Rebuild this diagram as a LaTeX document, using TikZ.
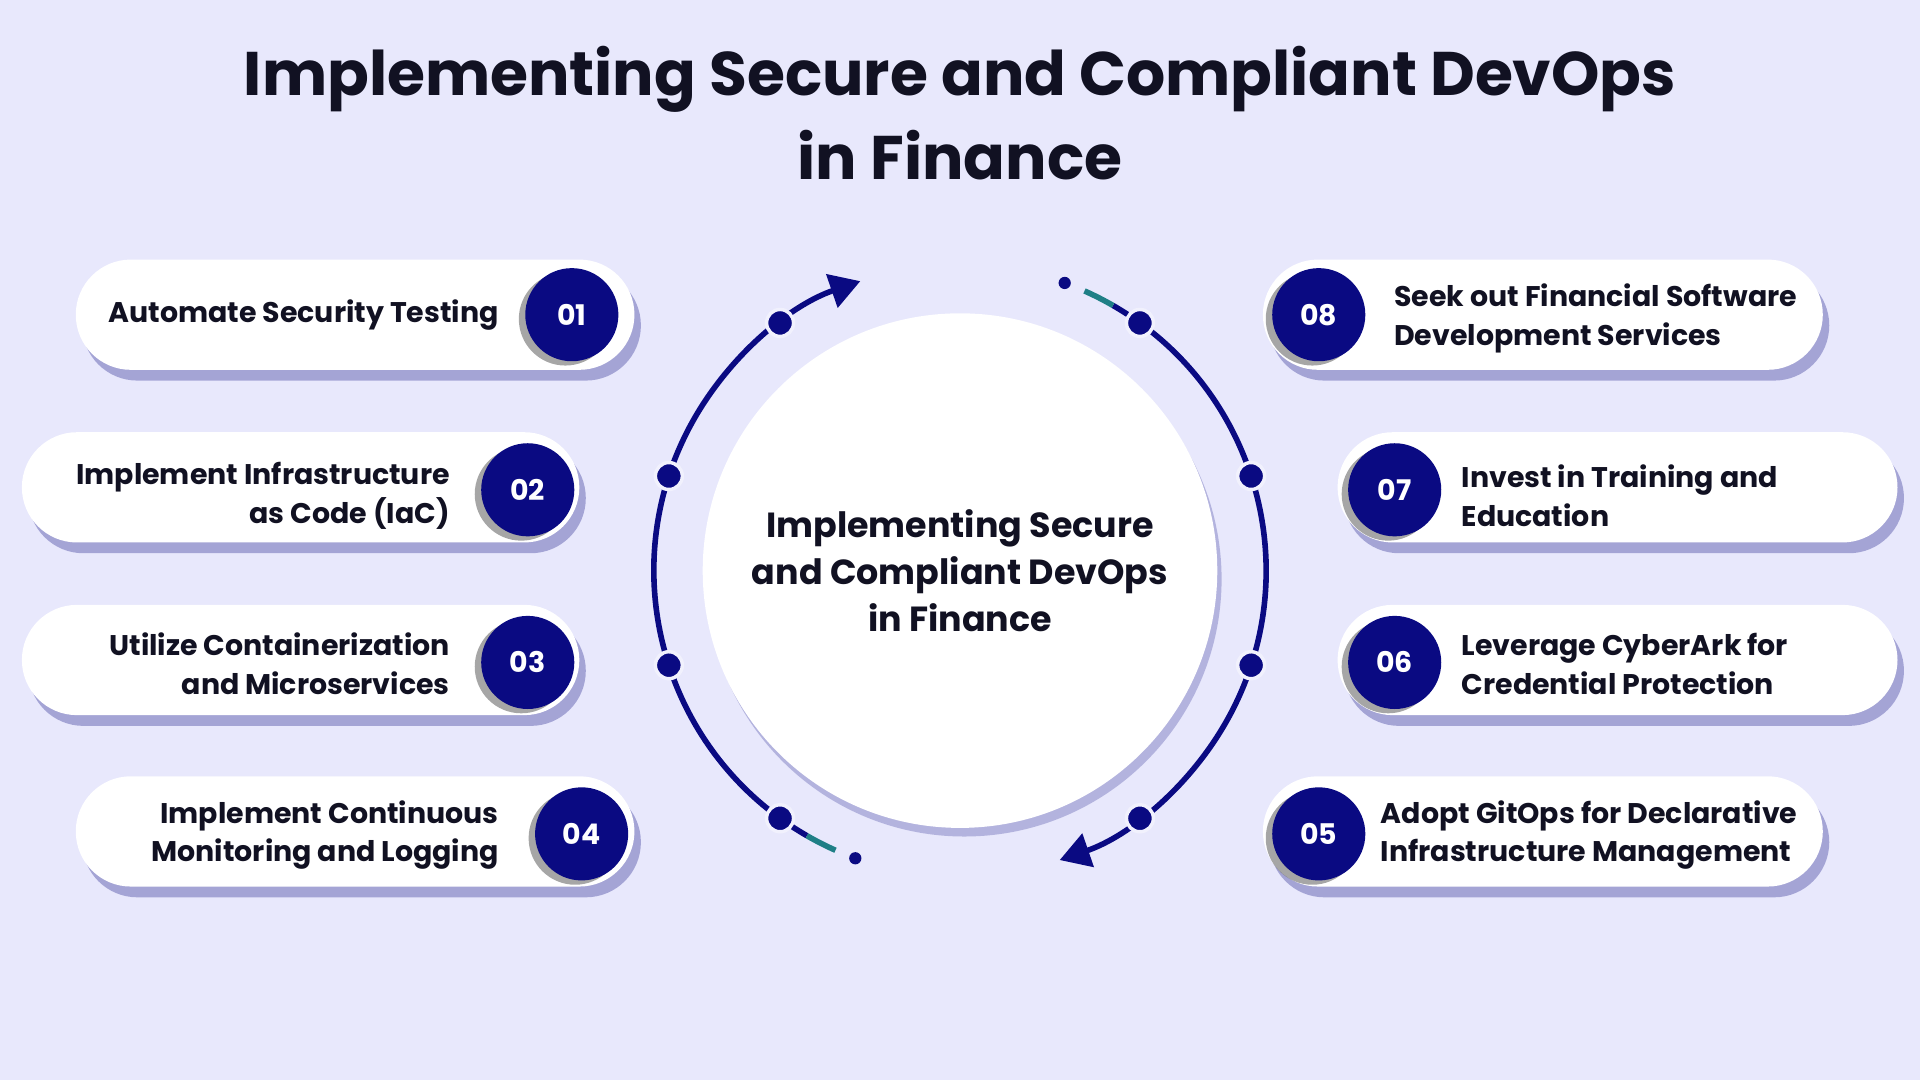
\documentclass[tikz,border=0pt]{standalone}
\usepackage{fontspec}
\setmainfont{Poppins}
\usetikzlibrary{shadows,arrows.meta}
\definecolor{bg}{HTML}{E8E8FC}
\definecolor{navy}{HTML}{0A0A82}
\definecolor{ink}{HTML}{111122}
\definecolor{teal}{HTML}{1F7F86}
\tikzset{
 pill/.style={draw=none,fill=white,rounded corners=45*0.01cm,minimum height=0.9cm,drop shadow={shadow xshift=1.5pt,shadow yshift=-2.5pt,opacity=.45,fill=navy!70}},
 num/.style={circle,fill=navy,minimum size=0.76cm,inner sep=0pt,text=white,font=\fontsize{6.6}{8}\selectfont\bfseries,drop shadow={shadow xshift=-1.5pt,shadow yshift=-1pt,opacity=.35,fill=black}},
 lab/.style={font=\fontsize{6.6}{9}\selectfont\bfseries,text=ink,inner sep=0pt},
 ringdot/.style={circle,fill=navy,draw=bg!60!white,line width=0.8pt,minimum size=0.22cm,inner sep=0pt},
 arcline/.style={draw=navy,line width=1.3pt},
}
\begin{document}
\begin{tikzpicture}[x=0.01cm,y=-0.01cm]
\fill[bg] (0,0) rectangle (1568,882);
\useasboundingbox (0,0) rectangle (1568,882);
\node[font=\fontsize{14.3}{19.5}\selectfont\bfseries,text=ink,align=center] (title) at (784,92) {Implementing Secure and Compliant DevOps\\in Finance};
% center
\node[circle,fill=white,minimum size=4.2cm,drop shadow={shadow xshift=1pt,shadow yshift=-2pt,opacity=.35,fill=navy!70}] (c) at (784,466) {};
\node[font=\fontsize{8.1}{10.9}\selectfont\bfseries,text=ink,align=center] (ct) at (784,466) {Implementing Secure\\and Compliant DevOps\\in Finance};
% arcs
\coordinate (o) at (784,466);
\draw[arcline,-{Triangle[length=7pt,width=8pt]}] ([shift={(-240:250)}]o) arc[start angle=-240,end angle=-109,radius=250];
\draw[teal,line width=1.3pt] ([shift={(-246:250)}]o) arc[start angle=-246,end angle=-240,radius=250];
\node[circle,fill=navy,minimum size=0.1cm,inner sep=0pt] (e1) at ([shift={(-250:250)}]o) {};
\draw[arcline,-{Triangle[length=7pt,width=8pt]}] ([shift={(-60:250)}]o) arc[start angle=-60,end angle=71,radius=250];
\draw[teal,line width=1.3pt] ([shift={(-66:250)}]o) arc[start angle=-66,end angle=-60,radius=250];
\node[circle,fill=navy,minimum size=0.1cm,inner sep=0pt] (e2) at ([shift={(-70:250)}]o) {};
\foreach \a/\n in {-126/d1,-162/d2,162/d3,126/d4,-54/d8,-18/d7,18/d6,54/d5}
  \node[ringdot] (\n) at ([shift={(\a:250)}]o) {};
% left pills
\node[pill,minimum width=4.56cm] (p1) at (290,257) {};
\node[pill,minimum width=4.55cm] (p2) at (245.5,398) {};
\node[pill,minimum width=4.55cm] (p3) at (245.5,539) {};
\node[pill,minimum width=4.56cm] (p4) at (290,679) {};
\node[num] (n1) at (467,257) {01};
\node[num] (n2) at (431,400) {02};
\node[num] (n3) at (431,541) {03};
\node[num] (n4) at (475,681) {04};
\node[lab,anchor=east,align=right] (t1) at (408,257) {Automate Security Testing};
\node[lab,anchor=east,align=right] (t2) at (368,405) {Implement Infrastructure\\as Code (IaC)};
\node[lab,anchor=east,align=right] (t3) at (368,542) {Utilize Containerization\\and Microservices};
\node[lab,anchor=east,align=right] (t4) at (408,682) {Implement Continuous\\Monitoring and Logging};
% right pills
\node[pill,minimum width=4.57cm] (p8) at (1260,257) {};
\node[pill,minimum width=4.57cm] (p7) at (1321,398) {};
\node[pill,minimum width=4.57cm] (p6) at (1321,539) {};
\node[pill,minimum width=4.57cm] (p5) at (1260,679) {};
\node[num] (n8) at (1077,257) {08};
\node[num] (n7) at (1139,400) {07};
\node[num] (n6) at (1139,541) {06};
\node[num] (n5) at (1077,681) {05};
\node[lab,anchor=west,align=left] (t8) at (1138,260) {Seek out Financial Software\\Development Services};
\node[lab,anchor=west,align=left] (t7) at (1193,405) {Invest in Training and\\Education};
\node[lab,anchor=west,align=left] (t6) at (1193,542) {Leverage CyberArk for\\Credential Protection};
\node[lab,anchor=west,align=left] (t5) at (1127,682) {Adopt GitOps for Declarative\\Infrastructure Management};
\end{tikzpicture}
\end{document}
